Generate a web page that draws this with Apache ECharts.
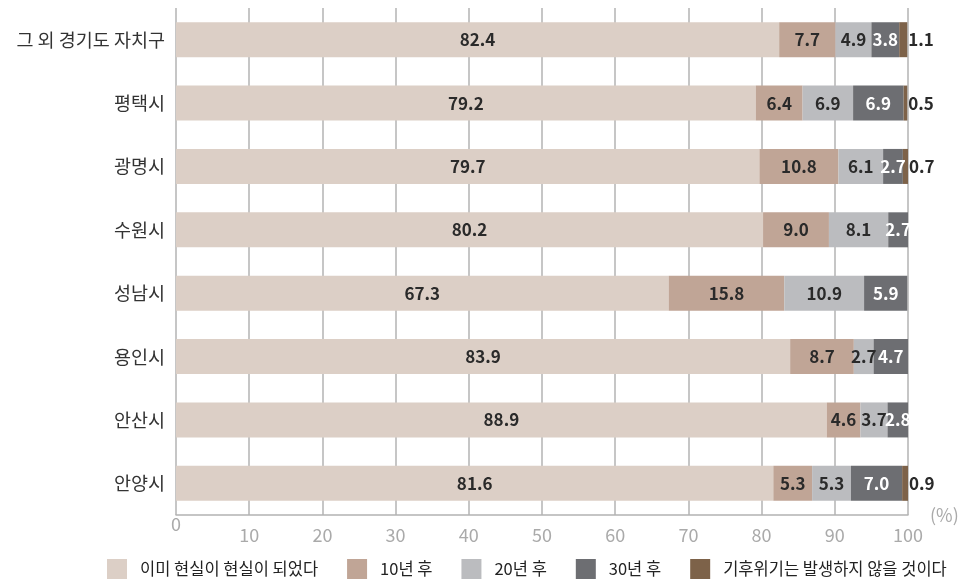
<!DOCTYPE html>
<html>
<head>
<meta charset="utf-8">
<script src="https://cdn.jsdelivr.net/npm/echarts@6/dist/echarts.min.js"></script>
<style>
  html, body { margin: 0; padding: 0; background: #fff; }
  #main { width: 976px; height: 586px; }
</style>
</head>
<body>
<div id="main"></div>
<script>
// 데이터
var regions = ['그 외 경기도 자치구', '평택시', '광명시', '수원시', '성남시', '용인시', '안산시', '안양시'];
var seriesNames = ['이미 현실이 현실이 되었다', '10년 후', '20년 후', '30년 후', '기후위기는 발생하지 않을 것이다'];
var already = [82.4, 79.2, 79.7, 80.2, 67.3, 83.9, 88.9, 81.6];
var after10 = [7.7, 6.4, 10.8, 9.0, 15.8, 8.7, 4.6, 5.3];
var after20 = [4.9, 6.9, 6.1, 8.1, 10.9, 2.7, 3.7, 5.3];
var after30 = [3.8, 6.9, 2.7, 2.7, 5.9, 4.7, 2.8, 7.0];
var never = [1.1, 0.5, 0.7, null, null, null, null, 0.9];

var colors = ['#dccfc6', '#c0a596', '#bbbcbf', '#6d6e72', '#7d6249'];
var font = '"Noto Sans CJK KR", "Noto Sans", sans-serif';

var myChart = echarts.init(document.getElementById('main'));

function makeSeries(name, data, idx) {
    var labelColor = idx === 3 ? '#ffffff' : '#2a2a2a';
    return {
        name: name,
        type: 'bar',
        stack: 'total',
        barWidth: 35,
        data: data,
        itemStyle: { color: colors[idx] },
        label: {
            show: true,
            position: idx === 4 ? 'right' : 'inside',
            distance: 1,
            color: labelColor,
            fontFamily: font,
            fontSize: 17,
            fontWeight: 'bold',
            formatter: function (p) { return p.value == null ? '' : p.value.toFixed(1); }
        }
    };
}

var option = {
    animation: false,
    color: colors,
    grid: { left: 176, right: 68, top: 8, bottom: 71 },
    legend: {
        bottom: 7,
        left: 107,
        padding: 0,
        itemWidth: 20,
        itemHeight: 20,
        itemGap: 29,
        icon: 'rect',
        textStyle: { fontFamily: font, fontSize: 16.5, color: '#222', padding: [0, 0, 0, 8] },
        data: seriesNames
    },
    xAxis: {
        type: 'value',
        min: 0,
        max: 100,
        interval: 10,
        name: '(%)',
        nameLocation: 'end',
        nameGap: 22,
        nameTextStyle: { fontFamily: font, fontSize: 18, color: '#aaaaaa', padding: [10, 0, 0, 0] },
        axisLine: { show: true, lineStyle: { color: '#b3b3b3', width: 1.5 } },
        axisTick: { show: false },
        splitLine: { show: true, lineStyle: { color: '#b3b3b3', width: 1.5 } },
        axisLabel: {
            margin: 0,
            fontFamily: font,
            fontSize: 18,
            color: '#aaaaaa',
            formatter: function (v) { return v === 0 ? '{z|0}' : '{n|' + v + '}'; },
            rich: {
                z: { fontFamily: font, fontSize: 18, color: '#aaaaaa', padding: [0, 0, 0, 0] },
                n: { fontFamily: font, fontSize: 18, color: '#aaaaaa', padding: [11, 0, 0, 0] }
            }
        }
    },
    yAxis: {
        type: 'category',
        inverse: true,
        data: regions,
        axisLine: { show: false },
        axisTick: { show: false },
        axisLabel: { margin: 11, fontFamily: font, fontSize: 18.5, color: '#333' }
    },
    series: [
        makeSeries(seriesNames[0], already, 0),
        makeSeries(seriesNames[1], after10, 1),
        makeSeries(seriesNames[2], after20, 2),
        makeSeries(seriesNames[3], after30, 3),
        makeSeries(seriesNames[4], never, 4)
    ]
};

myChart.setOption(option);
</script>
</body>
</html>
